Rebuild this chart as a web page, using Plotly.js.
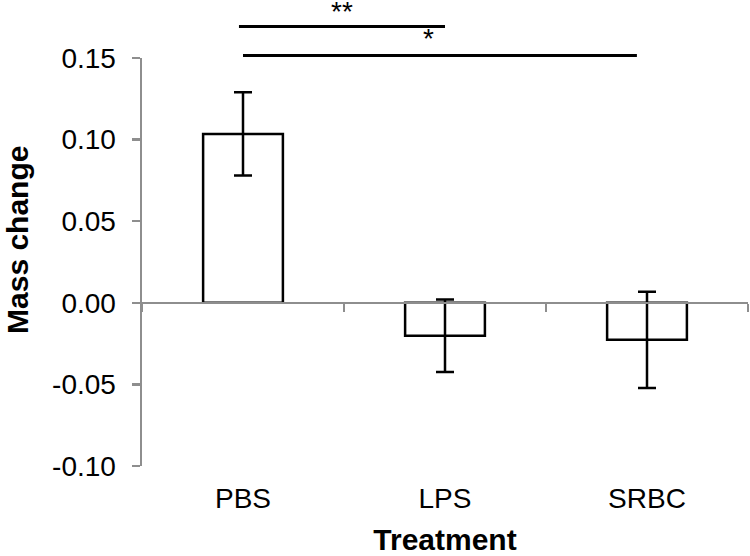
<!DOCTYPE html>
<html>
<head>
<meta charset="utf-8">
<script src="https://cdn.plot.ly/plotly-3.0.1.min.js"></script>
<style>html,body{margin:0;padding:0;background:#fff;}#chart{width:750px;height:556px;}</style>
</head>
<body>
<div id="chart"></div>
<script>
const categories = ['PBS', 'LPS', 'SRBC'];
const means = [0.1035, -0.0202, -0.0227];
const errors = [0.0255, 0.0222, 0.0295];
const yTicks = [-0.10, -0.05, 0.00, 0.05, 0.10, 0.15];
const yTickText = ['-0.10', '-0.05', '0.00', '0.05', '0.10', '0.15'];
const sigLabels = ['**', '*'];
const sigStart = [-0.02, 0.0];
const sigEnd = [1.0, 1.95];
const sigY = [0.1693, 0.1515];
const sigLabelX = [0.49, 0.92];
const sigLabelY = [0.1785, 0.1618];

const FONT = '"Liberation Sans", Arial, Helvetica, sans-serif';
const AXIS_GRAY = '#8e8e8e';
const X_RANGE = [-0.5, 2.5];
const Y_RANGE = [-0.10, 0.15];
// significance brackets sit above the plotted range, so they are placed in paper units
const xToPaper = v => (v - X_RANGE[0]) / (X_RANGE[1] - X_RANGE[0]);
const yToPaper = v => (v - Y_RANGE[0]) / (Y_RANGE[1] - Y_RANGE[0]);

const traces = [
  {
    type: 'bar',
    x: categories,
    y: means,
    marker: {color: '#ffffff', line: {color: '#000000', width: 2.5}},
    error_y: {type: 'data', array: errors, visible: true, color: '#000000', thickness: 2.5, width: 9},
    hoverinfo: 'skip',
    showlegend: false
  },
  {
    type: 'scatter',
    mode: 'markers',
    x: categories,
    y: categories.map(() => null),
    xaxis: 'x2',
    yaxis: 'y',
    hoverinfo: 'skip',
    showlegend: false
  }
];

const shapes = sigLabels.map((_, i) => ({
  type: 'line', xref: 'paper', yref: 'paper',
  x0: xToPaper(sigStart[i]), x1: xToPaper(sigEnd[i]),
  y0: yToPaper(sigY[i]), y1: yToPaper(sigY[i]),
  line: {color: '#000000', width: 3}
}));

const annotations = sigLabels.map((t, i) => ({
  text: t, xref: 'paper', yref: 'paper', x: xToPaper(sigLabelX[i]), y: yToPaper(sigLabelY[i]),
  showarrow: false, xanchor: 'center', yanchor: 'middle',
  font: {family: FONT, size: 28, color: '#000000'}
}));
annotations.push({
  text: '<b>Mass change</b>', xref: 'paper', yref: 'paper', x: -0.2046, y: 0.554,
  textangle: -90, showarrow: false, xanchor: 'center', yanchor: 'middle',
  font: {family: FONT, size: 30, color: '#000000'}
});

const layout = {
  width: 750, height: 556,
  margin: {l: 142, r: 2, t: 58, b: 90, pad: 0},
  paper_bgcolor: '#ffffff', plot_bgcolor: '#ffffff',
  font: {family: FONT, color: '#000000'},
  bargap: 0.605,
  xaxis: {
    type: 'category', range: X_RANGE,
    showline: false, ticks: '', showgrid: false, zeroline: false,
    tickfont: {family: FONT, size: 28, color: '#000000'},
    ticklabelstandoff: 13,
    title: {text: '<b>Treatment</b>', font: {family: FONT, size: 30, color: '#000000'}, standoff: 25}
  },
  xaxis2: {
    type: 'category', range: X_RANGE, overlaying: 'x', anchor: 'free', position: 0.4,
    showline: true, linecolor: AXIS_GRAY, linewidth: 2.5,
    ticks: 'outside', tickson: 'boundaries', ticklen: 8, tickwidth: 2.5, tickcolor: AXIS_GRAY,
    showticklabels: false, showgrid: false, zeroline: false
  },
  yaxis: {
    range: Y_RANGE, tickvals: yTicks, ticktext: yTickText,
    showline: true, linecolor: AXIS_GRAY, linewidth: 2.5,
    ticks: 'outside', ticklen: 8, tickwidth: 2.5, tickcolor: AXIS_GRAY,
    showgrid: false, zeroline: false,
    tickfont: {family: FONT, size: 28, color: '#000000'},
    ticklabelstandoff: 10
  },
  shapes: shapes,
  annotations: annotations
};

Plotly.newPlot('chart', traces, layout, {displayModeBar: false, staticPlot: true});
</script>
</body>
</html>
